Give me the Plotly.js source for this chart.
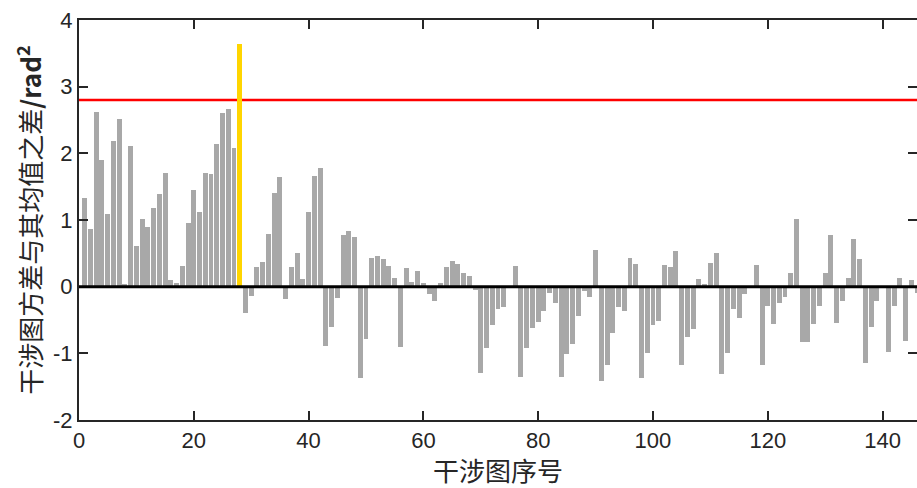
<!DOCTYPE html>
<html>
<head>
<meta charset="utf-8">
<script src="https://cdn.plot.ly/plotly-3.0.1.min.js"></script>
<style>html,body{margin:0;padding:0;background:#fff;}#chart{width:917px;height:488px;}</style>
</head>
<body>
<div id="chart"></div>
<script>
// Interferogram index
const indices = [];
for (let i = 1; i <= 146; i++) indices.push(i);

// Difference between interferogram variance and its mean (rad^2)
const diffValues = [
  1.325, 0.86, 2.625, 1.9, 1.09, 2.19, 2.51, 0.035, 2.115, 0.61,
  1.02, 0.9, 1.185, 1.39, 1.7, 0.1, 0.05, 0.31, 0.96, 1.45,
  1.125, 1.7, 1.69, 2.135, 2.61, 2.67, 2.075, 3.635, -0.4, -0.14,
  0.29, 0.365, 0.785, 1.405, 1.65, -0.19, 0.29, 0.51, 0.12, 1.115,
  1.66, 1.785, -0.89, -0.61, -0.175, 0.77, 0.835, 0.75, -1.375, -0.785,
  0.43, 0.46, 0.41, 0.31, 0.13, -0.9, 0.275, 0.065, 0.23, 0.05,
  -0.11, -0.21, 0.05, 0.3, 0.38, 0.34, 0.21, 0.16, -0.05, -1.29,
  -0.925, -0.575, -0.34, -0.3, -0.01, 0.31, -1.35, -0.925, -0.625, -0.525,
  -0.37, -0.1, -0.24, -1.35, -1.015, -0.865, -0.44, -0.06, -0.15, 0.55,
  -1.415, -1.175, -0.7, -0.31, -0.36, 0.43, 0.34, -1.375, -1.0, -0.575,
  -0.51, 0.325, 0.29, 0.535, -1.175, -0.75, -0.64, 0.11, 0.04, 0.36,
  0.5, -1.31, -1.0, -0.335, -0.47, -0.11, 0.0, 0.325, -1.18, -0.285,
  -0.56, -0.24, -0.15, 0.2, 1.01, -0.825, -0.835, -0.56, -0.285, 0.2,
  0.775, -0.55, -0.21, 0.135, 0.72, 0.42, -1.145, -0.61, -0.215, 0.0,
  -0.975, -0.29, 0.135, -0.82, 0.105, -0.1
];

// Highlighted interferogram and threshold
const highlightIndex = 28;
const threshold = 2.8;

// Axis ticks
const xTickVals = [0, 20, 40, 60, 80, 100, 120, 140];
const yTickVals = [-2, -1, 0, 1, 2, 3, 4];

const barColors = indices.map(i => i === highlightIndex ? '#ffd500' : '#a8a8a8');

const axisColor = '#262626';
const tickFont = {family: '"Liberation Sans", Arial, sans-serif', size: 22, color: axisColor};
const cjkFont = {family: '"Noto Sans CJK SC", "Liberation Sans", sans-serif', size: 26, color: axisColor};

const trace = {
  type: 'bar',
  x: indices,
  y: diffValues,
  width: 0.86,
  marker: {color: barColors, line: {width: 0}},
  hoverinfo: 'x+y'
};

const layout = {
  width: 917,
  height: 488,
  margin: {l: 79, r: 0, t: 20, b: 68},
  paper_bgcolor: '#ffffff',
  plot_bgcolor: '#ffffff',
  showlegend: false,
  bargap: 0,
  xaxis: {
    range: [0, 146],
    tickvals: xTickVals,
    ticktext: xTickVals.map(String),
    ticks: 'inside',
    ticklen: 9,
    tickwidth: 2,
    tickcolor: axisColor,
    showline: true,
    linecolor: axisColor,
    linewidth: 2,
    mirror: 'ticks',
    showgrid: false,
    zeroline: false,
    tickfont: tickFont,
    title: {text: '干涉图序号', font: cjkFont, standoff: 6}
  },
  yaxis: {
    range: [-2, 4],
    tickvals: yTickVals,
    ticktext: yTickVals.map(String),
    ticks: 'inside',
    ticklen: 9,
    tickwidth: 2,
    tickcolor: axisColor,
    showline: true,
    linecolor: axisColor,
    linewidth: 2,
    mirror: 'ticks',
    showgrid: false,
    zeroline: false,
    tickfont: tickFont,
    title: {text: '干涉图方差与其均值之差<b>/rad<sup>2</sup></b>', font: cjkFont, standoff: 4}
  },
  shapes: [
    {type: 'line', xref: 'paper', x0: 0, x1: 1, yref: 'y', y0: threshold, y1: threshold,
     line: {color: '#ff0000', width: 2.5}, layer: 'below'},
    {type: 'line', xref: 'paper', x0: 0, x1: 1, yref: 'y', y0: 0, y1: 0,
     line: {color: '#000000', width: 3}, layer: 'above'}
  ]
};

Plotly.newPlot('chart', [trace], layout, {displayModeBar: false, staticPlot: true});
</script>
</body>
</html>
